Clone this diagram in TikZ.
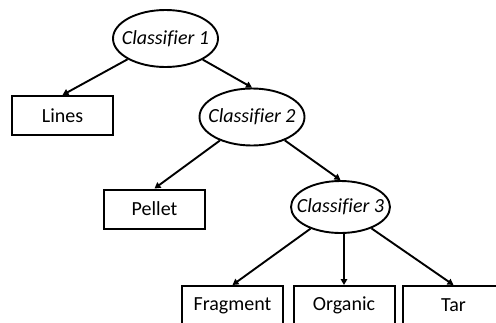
\documentclass[tikz,border=0pt]{standalone}
\usepackage{fontspec}
\setmainfont[Ligatures=NoCommon]{Carlito}
\usepackage{tikz}
\usetikzlibrary{positioning,shapes.geometric,arrows.meta}

\begin{document}
\begin{tikzpicture}
[
x=1pt, y=-1pt,
>={Triangle[length=6pt,width=6.5pt]},
clf-a/.style={ellipse, draw, line width=1.9pt, inner xsep=-10pt, inner ysep=0pt, minimum width=105pt, minimum height=57pt, font=\fontsize{20}{24}\selectfont\itshape},
leaf-a/.style={rectangle, draw, line width=2pt, inner sep=0pt, minimum width=101pt, minimum height=39pt, font=\fontsize{20}{24}\selectfont},
edge-a/.style={->, line width=1.9pt}
]

\useasboundingbox (0,0) rectangle (496,322);

\node (clf-1)         [clf-a]  at (165.5,38.5) {Classifier 1};
\node (clf-2)         [clf-a]  at (252,117)    {Classifier 2};
\node (clf-3)         [clf-a, minimum width=99pt, minimum height=52pt] at (340.5,207) {Classifier 3};
\node (leaf-lines)    [leaf-a] at (62.5,115.5)  {Lines};
\node (leaf-pellet)   [leaf-a] at (154.5,209)   {Pellet};
\node (leaf-fragment) [leaf-a] at (232.5,305.5) {Fragment};
\node (leaf-organic)  [leaf-a] at (344,305.5)   {Organic};
\node (leaf-tar)      [leaf-a] at (453.5,305.5) {Tar};

\draw [edge-a] (clf-1) -- (leaf-lines.north);
\draw [edge-a] (clf-1) -- (clf-2.north);
\draw [edge-a] (clf-2) -- (leaf-pellet.north);
\draw [edge-a] (clf-2) -- (clf-3.north);
\draw [edge-a] (clf-3) -- (leaf-fragment.north);
\draw [edge-a] (clf-3.south -| leaf-organic) -- (leaf-organic.north);
\draw [edge-a] (clf-3) -- (leaf-tar.north);

\end{tikzpicture}
\end{document}
